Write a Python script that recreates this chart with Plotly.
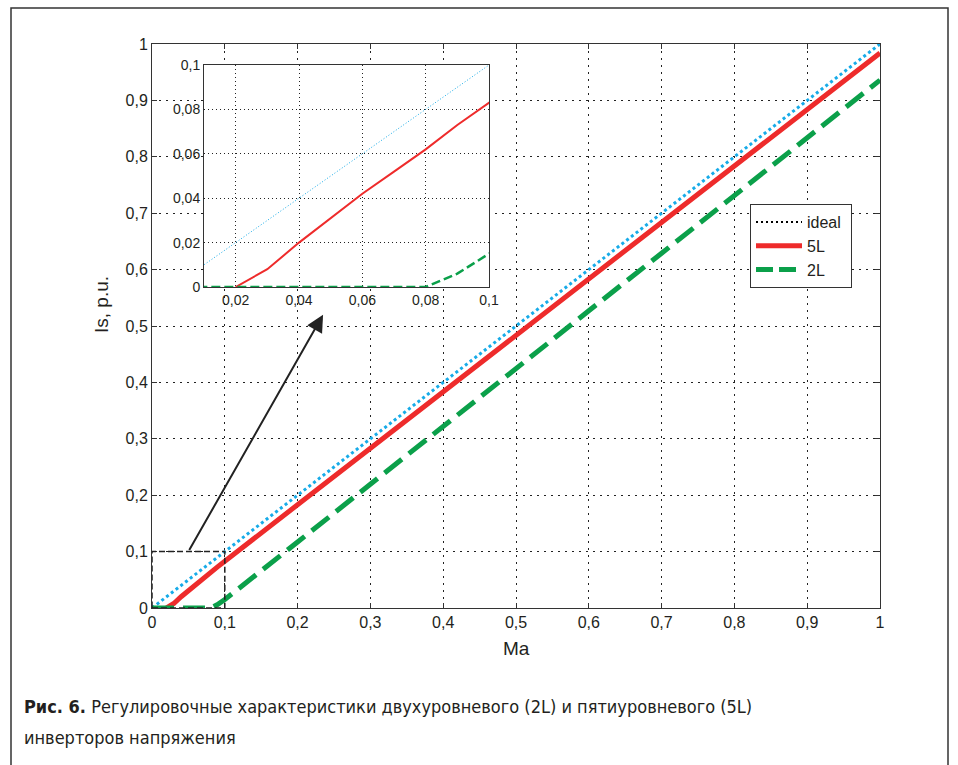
import plotly.graph_objects as go

# ---------------- data ----------------
ma = [0, 0.01, 0.02, 0.03, 0.04, 0.05, 0.06, 0.07, 0.08, 0.09, 0.1,
      0.2, 0.3, 0.4, 0.5, 0.6, 0.7, 0.8, 0.9, 1.0]
is_ideal = [0, 0.01, 0.02, 0.03, 0.04, 0.05, 0.06, 0.07, 0.08, 0.09, 0.1,
            0.2, 0.3, 0.4, 0.5, 0.6, 0.7, 0.8, 0.9, 1.0]
is_5l = [None, None, 0, 0.008, 0.02, 0.031, 0.042, 0.052, 0.062, 0.073, 0.083,
         0.183, 0.283, 0.383, 0.483, 0.583, 0.684, 0.784, 0.884, 0.984]
is_2l = [0, 0, 0, 0, 0, 0, 0, 0, 0, 0.006, 0.015,
         0.117, 0.22, 0.322, 0.424, 0.527, 0.629, 0.731, 0.834, 0.936]

main_ticks = [0, 0.1, 0.2, 0.3, 0.4, 0.5, 0.6, 0.7, 0.8, 0.9, 1.0]
main_ticktext = ["0", "0,1", "0,2", "0,3", "0,4", "0,5", "0,6", "0,7", "0,8", "0,9", "1"]
inset_xticks = [0.02, 0.04, 0.06, 0.08, 0.1]
inset_xticktext = ["0,02", "0,04", "0,06", "0,08", "0,1"]
inset_yticks = [0, 0.02, 0.04, 0.06, 0.08, 0.1]
inset_yticktext = ["0", "0,02", "0,04", "0,06", "0,08", "0,1"]

legend_names = ["ideal", "5L", "2L"]
caption_bold = "Рис. 6."
caption_line1 = "Регулировочные характеристики двухуровневого (2L) и пятиуровневого (5L)"
caption_line2 = "инверторов напряжения"

C_IDEAL = "#17ABE8"
C_5L = "#EE2B2B"
C_2L = "#0BA04A"
C_TXT = "#231F20"
CAP_FONT = "DejaVu Sans Condensed, DejaVu Sans"

fig = go.Figure()

# main traces
fig.add_trace(go.Scatter(x=ma, y=is_ideal, mode="lines", showlegend=False,
                         line=dict(color=C_IDEAL, width=3, dash="3px,3px"),
                         xaxis="x", yaxis="y"))
fig.add_trace(go.Scatter(x=ma, y=is_5l, mode="lines", showlegend=False,
                         line=dict(color=C_5L, width=5), xaxis="x", yaxis="y"))
fig.add_trace(go.Scatter(x=ma, y=is_2l, mode="lines", showlegend=False,
                         line=dict(color=C_2L, width=5, dash="22px,9px"),
                         xaxis="x", yaxis="y"))

# inset traces
fig.add_trace(go.Scatter(x=ma, y=is_ideal, mode="lines", showlegend=False,
                         line=dict(color=C_IDEAL, width=1, dash="1px,2px"),
                         xaxis="x2", yaxis="y2"))
fig.add_trace(go.Scatter(x=ma, y=is_5l, mode="lines", showlegend=False,
                         line=dict(color=C_5L, width=2), xaxis="x2", yaxis="y2"))
fig.add_trace(go.Scatter(x=ma, y=is_2l, mode="lines", showlegend=False,
                         line=dict(color=C_2L, width=2.5, dash="9px,4px"),
                         xaxis="x2", yaxis="y2"))

# legend-only entries (legend sample for 'ideal' is black dotted)
fig.add_trace(go.Scatter(x=[None], y=[None], mode="lines", name=legend_names[0] + " ",
                         line=dict(color="black", width=2, dash="2px,3px")))
fig.add_trace(go.Scatter(x=[None], y=[None], mode="lines", name=legend_names[1],
                         line=dict(color=C_5L, width=5)))
fig.add_trace(go.Scatter(x=[None], y=[None], mode="lines", name=legend_names[2],
                         line=dict(color=C_2L, width=5, dash="17px,6px")))

# geometry (pixels)
W, H = 958, 765
L, R, T, B = 152, 880, 44, 608
pw, ph = R - L, B - T


def px_x(p):
    return (p - L) / pw


def px_y(p):
    return (B - p) / ph


axis_common = dict(showline=True, linecolor="#333333", linewidth=1, mirror="ticks",
                   ticks="inside", ticklen=5, tickcolor="#333333", showgrid=True,
                   gridcolor="#222222", gridwidth=1, griddash="2px,5px",
                   zeroline=False, tickfont=dict(family="Liberation Sans", size=16, color=C_TXT))

inset_common = dict(showline=True, linecolor="#333333", linewidth=1, mirror=True,
                    ticks="", showgrid=True, gridcolor="#222222", gridwidth=1,
                    griddash="1px,3px", zeroline=False,
                    tickfont=dict(family="Liberation Sans", size=14, color=C_TXT))

fig.update_layout(
    width=W, height=H,
    margin=dict(l=L, r=W - R, t=T, b=H - B),
    paper_bgcolor="white", plot_bgcolor="white",
    xaxis=dict(range=[0, 1], tickvals=main_ticks, ticktext=main_ticktext,
               domain=[0, 1], **axis_common),
    yaxis=dict(range=[0, 1], tickvals=main_ticks, ticktext=main_ticktext,
               domain=[0, 1], **axis_common),
    xaxis2=dict(range=[0.01, 0.1], tickvals=inset_xticks, ticktext=inset_xticktext,
                domain=[px_x(204), px_x(489)], anchor="y2", **inset_common),
    yaxis2=dict(range=[0, 0.1], tickvals=inset_yticks, ticktext=inset_yticktext,
                domain=[px_y(287), px_y(65)], anchor="x2", **inset_common),
    legend=dict(x=px_x(750), y=px_y(204), xanchor="left", yanchor="top",
                bgcolor="white", bordercolor="#333333", borderwidth=1,
                font=dict(family="Liberation Sans", size=16, color=C_TXT),
                itemwidth=46, tracegroupgap=0),
    showlegend=True,
)

# white background behind the inset (covers main grid, below inset)
fig.add_shape(type="rect", xref="paper", yref="paper",
              x0=px_x(166), x1=px_x(500), y0=px_y(306), y1=px_y(53),
              fillcolor="white", line=dict(width=0), layer="between")

# dashed zoom box on main plot
fig.add_shape(type="rect", xref="x", yref="y", x0=0, x1=0.1, y0=0, y1=0.1,
              line=dict(color="#222222", width=1.5, dash="6px,3px"))

# arrow
fig.add_annotation(x=0.235, y=0.52, ax=0.05, ay=0.1, xref="x", yref="y",
                   axref="x", ayref="y", text="", showarrow=True,
                   arrowhead=2, arrowsize=1.7, arrowwidth=2, arrowcolor="#222222",
                   standoff=0, startstandoff=0)

# axis titles
fig.add_annotation(x=px_x(516), y=px_y(648), xref="paper", yref="paper",
                   text="Ma", showarrow=False, xanchor="center", yanchor="middle",
                   font=dict(family="Liberation Sans", size=19, color=C_TXT))
fig.add_annotation(x=px_x(101), y=px_y(305), xref="paper", yref="paper",
                   text="Is, p.u.", showarrow=False, textangle=-90,
                   xanchor="center", yanchor="middle",
                   font=dict(family="Liberation Sans", size=19, color=C_TXT))

# caption
fig.add_annotation(x=px_x(22), y=px_y(706), xref="paper", yref="paper",
                   text="<b>" + caption_bold + "</b> " + caption_line1,
                   showarrow=False, xanchor="left", yanchor="middle", align="left",
                   font=dict(family=CAP_FONT, size=18, color=C_TXT))
fig.add_annotation(x=px_x(22), y=px_y(737), xref="paper", yref="paper",
                   text=caption_line2,
                   showarrow=False, xanchor="left", yanchor="middle", align="left",
                   font=dict(family=CAP_FONT, size=18, color=C_TXT))

# outer frame (open at the bottom, beyond the view)
fig.add_shape(type="rect", xref="paper", yref="paper",
              x0=px_x(11), x1=px_x(948), y0=px_y(790), y1=px_y(8),
              line=dict(color="#333333", width=1.5), fillcolor="rgba(0,0,0,0)",
              layer="below")

fig.write_html("out.html")
